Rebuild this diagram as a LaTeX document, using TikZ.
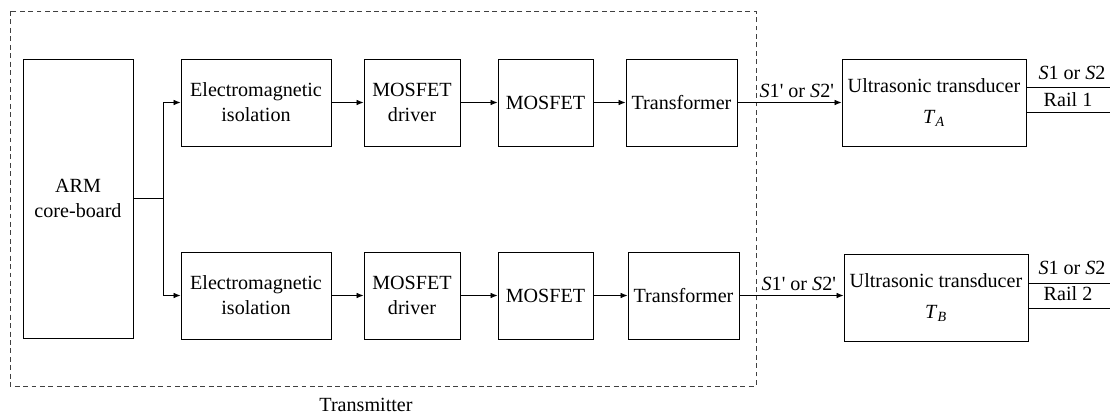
\documentclass[tikz,border=0pt]{standalone}
\usepackage{fontspec}
\setmainfont{LiberationSerif}[Extension=.ttf,UprightFont=*-Regular,ItalicFont=*-Italic,BoldFont=*-Bold]
\usetikzlibrary{arrows.meta}

\begin{document}
\begin{tikzpicture}[x=0.025cm,y=-0.025cm,
  font=\fontsize{14.3}{17.8}\selectfont,
  blk/.style={draw,line width=0.6pt,align=center,inner sep=0pt,minimum height=2.175cm},
  arr/.style={-{Latex[length=5pt,width=4pt]},line width=0.6pt},
  wire/.style={line width=0.6pt}]

\useasboundingbox (0,0) rectangle (1110,416);

% transmitter frame
\draw[black!75,line width=0.6pt,dash pattern=on 3.5pt off 2.5pt] (10,11) rectangle (756,386);
\node (tx) at (366,405) {Transmitter};

\node[blk,minimum width=2.75cm,minimum height=6.975cm] (arm) at (78,198.5) {ARM\\core-board};
\coordinate (split) at (163,198.5);

% channel A
\node[blk,minimum width=3.75cm] (emA) at (256,102.5) {Electromagnetic\\isolation};
\node[blk,minimum width=2.4cm] (drvA) at (412,102.5) {MOSFET\\driver};
\node[blk,minimum width=2.375cm] (mosA) at (545.5,102.5) {MOSFET};
\node[blk,minimum width=2.775cm] (trA) at (681.5,102.5) {Transformer};
\node[blk,minimum width=4.6cm] (usA) at (934,102.5) {Ultrasonic transducer\\[4pt]\textit{T}\textsubscript{\textit{A}}};

% channel B
\node[blk,minimum width=3.75cm] (emB) at (256,295.5) {Electromagnetic\\isolation};
\node[blk,minimum width=2.4cm] (drvB) at (412,295.5) {MOSFET\\driver};
\node[blk,minimum width=2.375cm] (mosB) at (545.5,295.5) {MOSFET};
\node[blk,minimum width=2.775cm] (trB) at (683.5,295.5) {Transformer};
\node[blk,minimum width=4.6cm] (usB) at (936,297.5) {Ultrasonic transducer\\[4pt]\textit{T}\textsubscript{\textit{B}}};

\draw[wire] (arm.east |- split) -- (split);
\draw[arr] (split) |- (emA.west);
\draw[arr] (split) |- (emB.west);

\draw[arr] (emA) -- (drvA);
\draw[arr] (drvA) -- (mosA);
\draw[arr] (mosA) -- (trA);
\draw[arr] (trA) -- node[pos=0.57,above,name=lblA] {\textit{S}1\textquotesingle{} or \textit{S}2\textquotesingle} (usA);

\draw[arr] (emB) -- (drvB);
\draw[arr] (drvB) -- (mosB);
\draw[arr] (mosB) -- (trB);
\draw[arr] (trB.east) -- node[pos=0.57,above,name=lblB] {\textit{S}1\textquotesingle{} or \textit{S}2\textquotesingle} (trB.east -| usB.west);

% rail outputs
\coordinate (railA1) at (1110,87);
\coordinate (railA2) at (1110,112);
\draw[wire] (usA.east |- railA1) -- (railA1);
\draw[wire] (usA.east |- railA2) -- (railA2);
\node (sigA) at (1072,73) {\textit{S}1 or \textit{S}2};
\node (railA) at (1068,100) {Rail 1};

\coordinate (railB1) at (1110,283);
\coordinate (railB2) at (1110,308);
\draw[wire] (usB.east |- railB1) -- (railB1);
\draw[wire] (usB.east |- railB2) -- (railB2);
\node (sigB) at (1072,268) {\textit{S}1 or \textit{S}2};
\node (railB) at (1068,294) {Rail 2};

\end{tikzpicture}
\end{document}
